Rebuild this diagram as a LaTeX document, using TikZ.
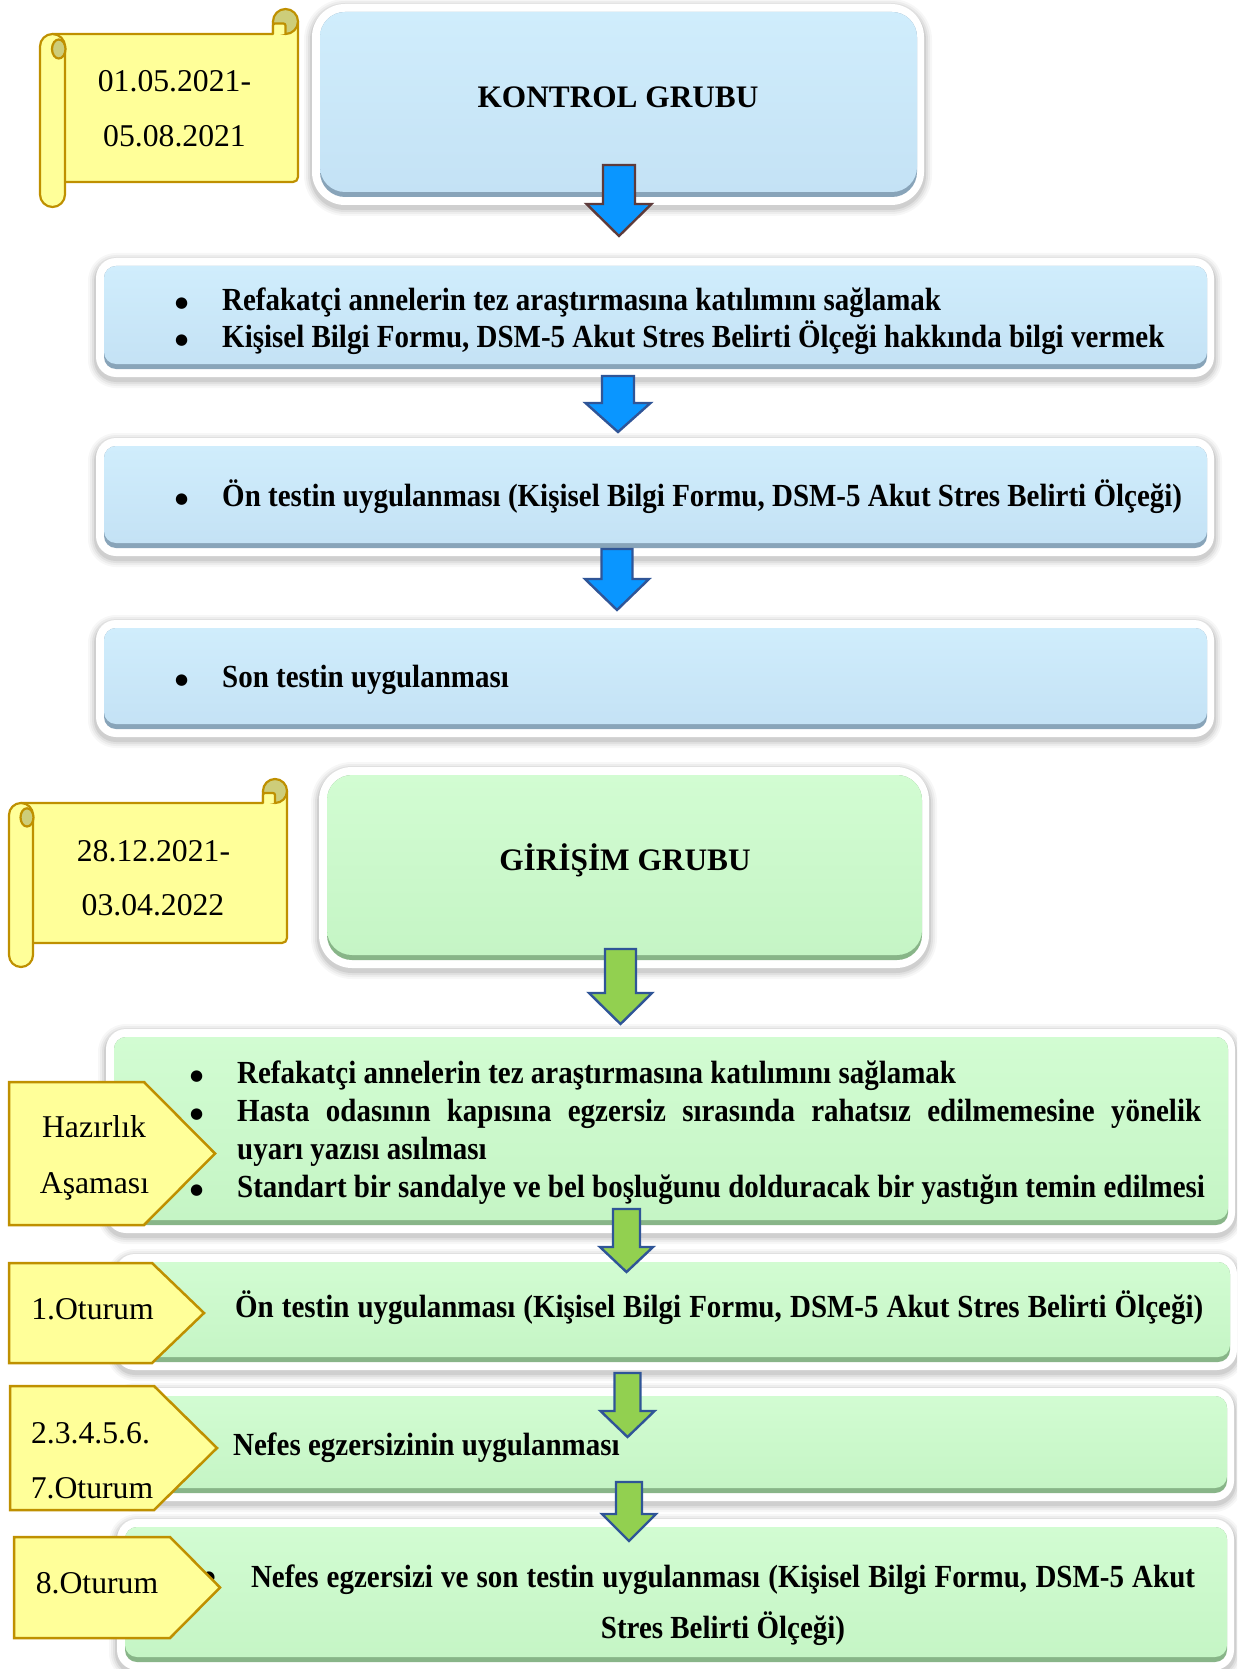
\documentclass[tikz,border=0pt]{standalone}
\usepackage{fontspec}
\setmainfont{Liberation Serif}
\newfontfamily\bodybf{Liberation Serif}[FakeStretch=0.9]
\newfontfamily\dotfont{DejaVu Sans}

\definecolor{bluefill}{HTML}{C4E2F5}
\definecolor{bluetop}{HTML}{D0EDFC}
\definecolor{blueedge}{HTML}{88A4B9}
\definecolor{greenfill}{HTML}{C5F5C5}
\definecolor{greentop}{HTML}{D2FCD2}
\definecolor{greenedge}{HTML}{88B588}
\definecolor{scrollyellow}{HTML}{FFFF99}
\definecolor{scrollgold}{HTML}{BF9000}
\definecolor{scrollolive}{HTML}{CDCD7A}
\definecolor{arrowblue}{HTML}{0A96FF}
\definecolor{arrowgreen}{HTML}{92D050}
\definecolor{arrowline}{HTML}{2F5597}
\definecolor{arrowbrown}{HTML}{5E3B3B}

\newcommand\bigdot{{\dotfont\fontsize{15}{15}\selectfont ●}}
\newcommand\bul{\llap{\raisebox{2.5pt}{\bigdot}\hspace{34pt}}}
% outer x1 y1 x2 y2, colour, inner radius
\newcommand\framepanel[6]{%
  \pgfmathsetmacro\ro{#6+8}%
  \foreach \gw/\op in {8/0.03,6/0.04,4/0.055,2/0.075}{%
    \pgfmathsetmacro\rg{\ro+\gw}%
    \fill[black,opacity=\op,rounded corners=\rg pt] (#1-\gw,#2-\gw+3) rectangle (#3+\gw,#4+\gw+3);}
  \fill[white,rounded corners=\ro pt] (#1,#2) rectangle (#3,#4);
  \fill[#5edge,rounded corners=#6pt] (#1+8,#2+8) rectangle (#3-7,#4-8);
  \shade[top color=#5top,bottom color=#5fill,rounded corners=#6pt] (#1+8,#2+8) rectangle (#3-7,#4-13);
}
% L T R B roll diameter
\newcommand\scrollpaper[5]{%
  \pgfmathsetmacro\pr{#5/2}%
  \filldraw[paper] (#1+\pr,#2+#5) -- (#3-#5,#2+#5) -- (#3-#5,#2+\pr) -- (#3,#2+\pr)
    [rounded corners=5pt] -- (#3,#4-#5) -- (#1+\pr,#4-#5) [sharp corners] -- cycle;
  \filldraw[paperroll] (#3-\pr,#2+\pr) circle (\pr);
  \filldraw[paper,rounded corners=2pt] (#3-#5,#2+#5) -- (#3-#5,#2+\pr+2) -- (#3-\pr,#2+\pr+2) -- (#3-\pr,#2+#5);
  \filldraw[paper,rounded corners=\pr pt] (#1,#2+#5) rectangle (#1+#5,#4);
  \filldraw[paperroll] (#1+0.75*#5,#2+1.6*#5) ellipse ({0.27*#5} and {0.38*#5});
}
% cx top head tip shaft/2 head/2 style
\newcommand\blockarrow[7]{%
  \filldraw[#7] (#1-#5,#2) -- (#1+#5,#2) -- (#1+#5,#3) -- (#1+#6,#3) -- (#1,#4)
    -- (#1-#6,#3) -- (#1-#5,#3) -- cycle;
}
% x1 y1 x2 y2 shoulder
\newcommand\tagshape[5]{%
  \filldraw[tagbox] (#1,#2) -- (#5,#2) -- (#3,{(#2+#4)/2}) -- (#5,#4) -- (#1,#4) -- cycle;
}

\begin{document}
\begin{tikzpicture}[x=1pt,y=-1pt,
  btxt/.style={font=\bodybf\bfseries\fontsize{32.2}{38}\selectfont,inner sep=0pt,anchor=base west},
  ctxt/.style={font=\bodybf\bfseries\fontsize{32.2}{38}\selectfont,inner sep=0pt,anchor=base},
  ttl/.style={font=\bfseries\fontsize{31.3}{36}\selectfont,inner sep=0pt,anchor=base},
  rtxt/.style={font=\fontsize{31.7}{38}\selectfont,inner sep=0pt,anchor=base},
  paper/.style={fill=scrollyellow,draw=scrollgold,line width=2.2pt,line join=round},
  paperroll/.style={fill=scrollolive,draw=scrollgold,line width=2.2pt},
  tagbox/.style={fill=scrollyellow,draw=scrollgold,line width=2.5pt},
  bluearrow/.style={fill=arrowblue,draw=arrowline,line width=2.4pt},
  greenarrow/.style={fill=arrowgreen,draw=arrowline,line width=2.4pt}]
\useasboundingbox (0,0) rectangle (1237,1669);
\clip (0,0) rectangle (1237,1669);

\framepanel{312}{4}{924}{205}{blue}{25}
\framepanel{96}{258}{1214}{377}{blue}{12}
\framepanel{96}{438}{1214}{556}{blue}{12}
\framepanel{96}{620}{1214}{737}{blue}{12}
\framepanel{319}{767}{929}{968}{green}{25}
\framepanel{106}{1029}{1235}{1233}{green}{12}
\framepanel{115}{1254}{1237}{1370}{green}{12}
\framepanel{115}{1388}{1234}{1501}{green}{12}
\framepanel{117}{1519}{1234}{1670}{green}{12}

\scrollpaper{40}{9}{298}{207}{25}
\scrollpaper{9}{779}{287}{967}{24}

\blockarrow{619}{165}{204}{236}{16}{32.5}{bluearrow,draw=arrowbrown}
\blockarrow{618}{376}{403}{432}{16}{32.5}{bluearrow}
\blockarrow{617}{549}{579}{610}{15.5}{32}{bluearrow}
\blockarrow{620.5}{949}{993}{1024}{15.5}{31.5}{greenarrow}
\blockarrow{626.5}{1209}{1247}{1272}{13.5}{26.5}{greenarrow}
\blockarrow{627.5}{1373}{1411}{1437}{13}{27}{greenarrow}
\blockarrow{629}{1482}{1514}{1541}{13}{27}{greenarrow}

\node[rtxt] (d1a) at (174.5,92) {01.05.2021-};
\node[rtxt] (d1b) at (174.5,146.5) {05.08.2021};
\node[rtxt] (d2a) at (153.5,861) {28.12.2021-};
\node[rtxt] (d2b) at (153,915.5) {03.04.2022};

\node[ttl] (kontrol) at (618,108) {KONTROL GRUBU};
\node[btxt] (k1a) at (222,310) {\bul Refakatçi annelerin tez araştırmasına katılımını sağlamak};
\node[btxt] (k1b) at (222,347.5) {\bul Kişisel Bilgi Formu, DSM-5 Akut Stres Belirti Ölçeği hakkında bilgi vermek};
\node[btxt] (k2) at (222,506) {\bul Ön testin uygulanması (Kişisel Bilgi Formu, DSM-5 Akut Stres Belirti Ölçeği)};
\node[btxt] (k3) at (222,687) {\bul Son testin uygulanması};

\node[ttl] (girisim) at (625,870) {GİRİŞİM GRUBU};
\node[btxt] (g1a) at (237,1083) {\bul Refakatçi annelerin tez araştırmasına katılımını sağlamak};
\node[btxt] (g1b) at (237,1121) {\bul\makebox[964pt][s]{Hasta odasının kapısına egzersiz sırasında rahatsız edilmemesine yönelik}};
\node[btxt] (g1c) at (237,1159) {uyarı yazısı asılması};
\node[btxt] (g1d) at (237,1197) {\bul Standart bir sandalye ve bel boşluğunu dolduracak bir yastığın temin edilmesi};
\node[btxt] (g2) at (235,1317) {\makebox[968pt][s]{Ön testin uygulanması (Kişisel Bilgi Formu, DSM-5 Akut Stres Belirti Ölçeği)}};
\node[btxt] (g3) at (233,1455) {Nefes egzersizinin uygulanması};
\node[btxt,anchor=center] (g4dot) at (209,1578) {\bigdot};
\node[ctxt] (g4a) at (723,1587) {\makebox[944pt][s]{Nefes egzersizi ve son testin uygulanması (Kişisel Bilgi Formu, DSM-5 Akut}};
\node[ctxt] (g4b) at (723,1638) {Stres Belirti Ölçeği)};

\tagshape{9}{1082}{215}{1225}{144}
\tagshape{9}{1263}{204}{1363}{152}
\tagshape{10}{1386}{217}{1510}{154}
\tagshape{14}{1537}{220}{1638}{170}
\node[rtxt] (t1a) at (94,1137) {Hazırlık};
\node[rtxt] (t1b) at (94.5,1193) {Aşaması};
\node[rtxt] (t2) at (92.5,1319) {1.Oturum};
\node[rtxt] (t3a) at (90.5,1443) {2.3.4.5.6.};
\node[rtxt] (t3b) at (92,1498) {7.Oturum};
\node[rtxt] (t4) at (97,1593) {8.Oturum};
\end{tikzpicture}
\end{document}
